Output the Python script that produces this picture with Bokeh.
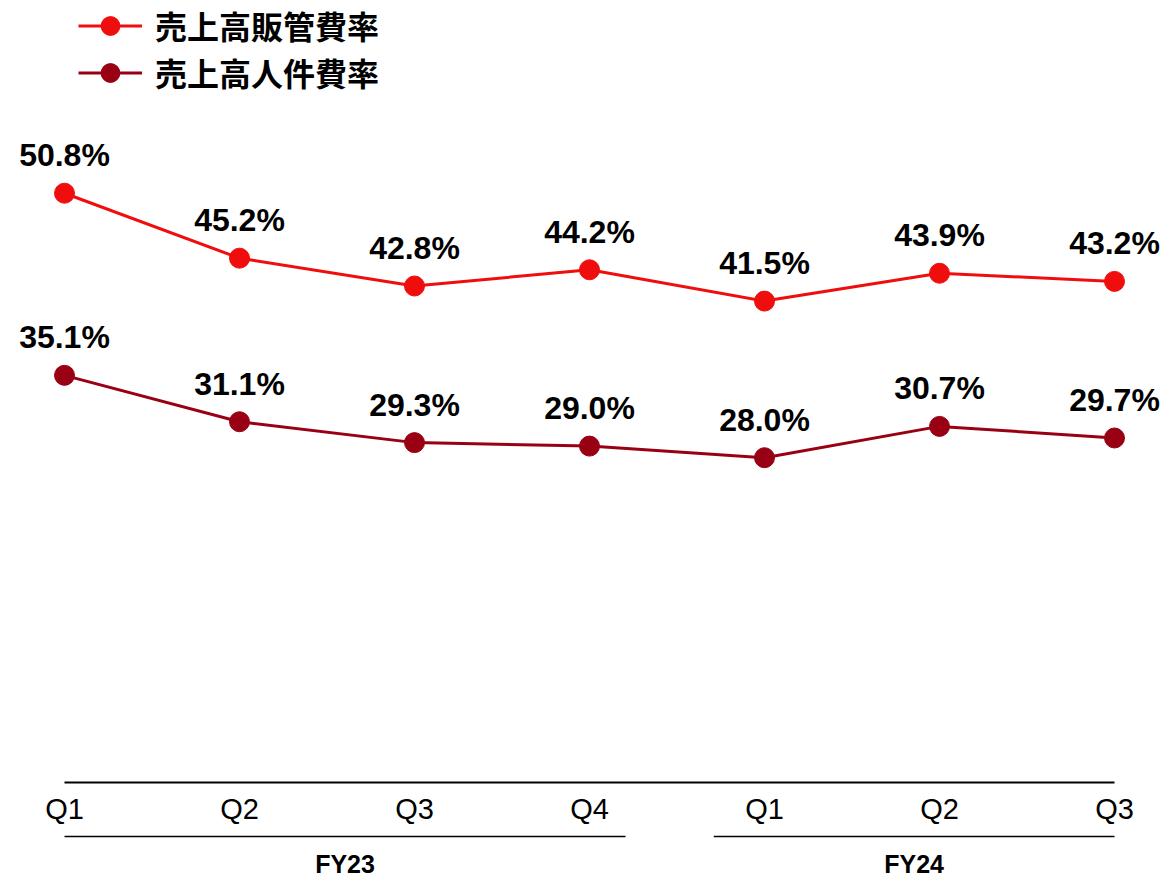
from bokeh.plotting import figure
from bokeh.models import Range1d, ColumnDataSource, Legend, LegendItem
from bokeh.core.properties import value
from bokeh.embed import file_html
from bokeh.resources import INLINE

# ---- data ----
quarters = ["Q1", "Q2", "Q3", "Q4", "Q1", "Q2", "Q3"]
fiscal_years = ["FY23", "FY24"]
fy_quarter_counts = [4, 3]
sga_ratio = [50.8, 45.2, 42.8, 44.2, 41.5, 43.9, 43.2]
personnel_ratio = [35.1, 31.1, 29.3, 29.0, 28.0, 30.7, 29.7]
series_names = ["売上高販管費率", "売上高人件費率"]

# ---- styling / layout ----
RED = "#F00D0D"
DARK = "#990014"
LATIN = "Liberation Sans"
CJK = "Noto Sans CJK JP"
W, H = 1165, 877
PX_PER_UNIT = 11.6      # vertical scale (px per percentage point)
AXIS_Y = 782            # canvas y of the value 0 baseline
X0, DX = 64, 175        # canvas x of first category, spacing

x_idx = list(range(len(quarters)))
x_start = (0 - X0) / DX
x_end = (W - X0) / DX
y_top = AXIS_Y / PX_PER_UNIT
y_bot = (AXIS_Y - H) / PX_PER_UNIT

p = figure(width=W, height=H, output_backend="svg", toolbar_location=None,
           x_range=Range1d(x_start, x_end), y_range=Range1d(y_bot, y_top),
           min_border=0, outline_line_color=None)
p.xaxis.visible = False
p.yaxis.visible = False
p.xgrid.visible = False
p.ygrid.visible = False
p.background_fill_color = "white"

def px(d):
    return d / PX_PER_UNIT

# baseline axis line
p.segment(x0=[x_idx[0]], y0=[0], x1=[x_idx[-1]], y1=[0], line_color="black", line_width=2)

# quarter tick labels
p.text(x=x_idx, y=[0] * len(x_idx), text=quarters, text_align="center",
       text_baseline="alphabetic", y_offset=26, text_font=value(LATIN),
       text_font_size="29px", text_color="black")

# fiscal year group lines + labels
starts, ends, centers = [], [], []
i = 0
pad_left = [0.0, 0.29]
pad_right = [0.206, 0.0]
for k, n in enumerate(fy_quarter_counts):
    s = x_idx[i] - pad_left[k]
    e = x_idx[i + n - 1] + pad_right[k]
    starts.append(s); ends.append(e); centers.append((s + e) / 2)
    i += n
gy = -px(54)
p.segment(x0=starts, y0=[gy] * 2, x1=ends, y1=[gy] * 2, line_color="black", line_width=1.5)
p.text(x=centers, y=[0] * 2, text=fiscal_years, text_align="center",
       text_baseline="alphabetic", y_offset=81, text_font=value(LATIN),
       text_font_style="bold", text_font_size="25px", text_color="black")

renderers = []
for vals, col in [(sga_ratio, RED), (personnel_ratio, DARK)]:
    src = ColumnDataSource(dict(x=x_idx, y=vals, lab=[f"{v:.1f}%" for v in vals]))
    l = p.line("x", "y", source=src, line_color=col, line_width=3)
    s = p.scatter("x", "y", source=src, size=20, fill_color=col, line_color=col)
    p.text("x", "y", text="lab", source=src, text_align="center",
           text_baseline="alphabetic", y_offset=-38, text_font=value(LATIN),
           text_font_style="bold", text_font_size="32px", text_color="black")
    renderers.append([l, s])

legend = Legend(items=[LegendItem(label=series_names[0], renderers=renderers[0]),
                       LegendItem(label=series_names[1], renderers=renderers[1])],
                location=(78, H - 1.5 - 94), orientation="vertical",
                glyph_width=64, glyph_height=47, spacing=0, padding=0, margin=0,
                label_standoff=13, label_text_font=CJK, label_text_font_style="bold",
                label_text_font_size="32px", label_text_color="black",
                border_line_color=None, background_fill_alpha=0)
p.add_layout(legend)

open("out.html", "w").write(file_html(p, INLINE))
